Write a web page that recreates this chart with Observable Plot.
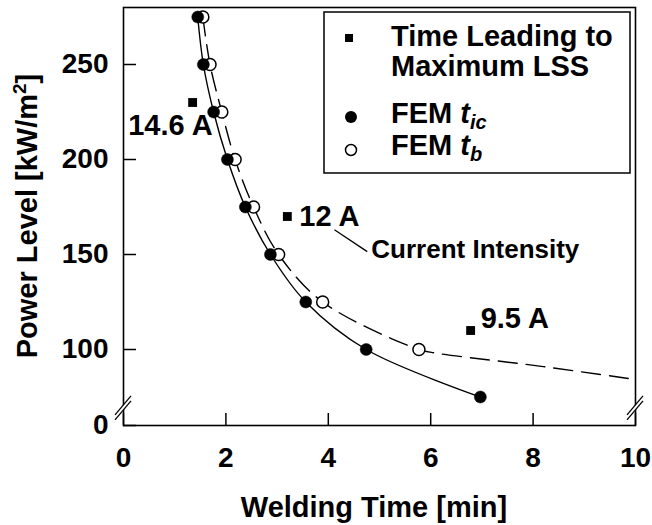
<!DOCTYPE html>
<html><head><meta charset="utf-8">
<script src="https://cdn.jsdelivr.net/npm/d3@7"></script>
<script src="https://cdn.jsdelivr.net/npm/@observablehq/plot@0.6"></script>
<style>body{margin:0;background:#fff} svg{display:block}</style>
</head><body><div id="chart"></div>
<script>
// ---- data ----
const ticLevels = [275, 250, 225, 200, 175, 150, 125, 100, 75];
const ticTimes  = [1.45, 1.56, 1.76, 2.03, 2.38, 2.87, 3.56, 4.74, 6.97];
const tbLevels  = [275, 250, 225, 200, 175, 150, 125, 100];
const tbTimes   = [1.55, 1.69, 1.92, 2.18, 2.54, 3.03, 3.89, 5.77];
const tbTailTimes  = [6.13, 8.2, 10];
const tbTailLevels = [98, 91, 84.2];
const lssTimes   = [1.35, 3.2, 6.78];
const lssLevels  = [230, 170, 110];
const lssLabels  = ["14.6 A", "12 A", "9.5 A"];
const xTicks = [0, 2, 4, 6, 8, 10];
const yTicks = [60, 100, 150, 200, 250];          // 60 sits at the broken-axis origin
const yTickLabels = ["0", "100", "150", "200", "250"];
const xDomain = [0, 10];
const yDomain = [60, 280];
const breakLevel = 69;
const leaderFrom = [4.12, 163];
const leaderTo = [4.76, 151.5];
const currentLabelAt = [4.84, 152.3];
const currentLabel = "Current Intensity";

const tic = ticTimes.map((t, i) => ({t, p: ticLevels[i]}));
const tb = tbTimes.map((t, i) => ({t, p: tbLevels[i]}));
const tbCurve = tb.concat(tbTailTimes.map((t, i) => ({t, p: tbTailLevels[i]})));
const lss = lssTimes.map((t, i) => ({t, p: lssLevels[i], label: lssLabels[i]}));

const FONT = "'Liberation Sans', Arial, Helvetica, sans-serif";

const plot = Plot.plot({
  width: 652, height: 525,
  marginLeft: 123, marginRight: 17, marginTop: 7, marginBottom: 100,
  style: {fontFamily: FONT, fontWeight: "bold", color: "black", background: "white", overflow: "visible"},
  x: {domain: xDomain},
  y: {domain: yDomain},
  marks: [
    Plot.axisX({ticks: xTicks, tickSize: -12, tickPadding: 34, fontSize: 28, strokeWidth: 1.5, label: null, tickFormat: d => String(d)}),
    Plot.axisY({ticks: yTicks, tickSize: -13, tickPadding: 28, fontSize: 28, strokeWidth: 1.5, label: null,
      tickFormat: d => yTickLabels[yTicks.indexOf(d)]}),
    Plot.frame({stroke: "black", strokeWidth: 1.6}),
    Plot.line(tic, {x: "t", y: "p", curve: "catmull-rom", stroke: "black", strokeWidth: 1.4}),
    Plot.line(tbCurve, {x: "t", y: "p", curve: "catmull-rom", stroke: "black", strokeWidth: 1.4, strokeDasharray: "19,9"}),
    Plot.dot(tb, {x: "t", y: "p", r: 6, fill: "white", stroke: "black", strokeWidth: 1.5}),
    Plot.dot(tic, {x: "t", y: "p", r: 6, fill: "black", stroke: "black", strokeWidth: 0.5}),
    Plot.dot(lss, {x: "t", y: "p", symbol: "square", r: 5, fill: "black"}),
    Plot.text(lss.slice(0, 1), {x: "t", y: "p", text: "label", textAnchor: "end", dx: 20, dy: 23, fontSize: 29, fontWeight: "bold", fill: "black"}),
    Plot.text(lss.slice(1, 2), {x: "t", y: "p", text: "label", textAnchor: "start", dx: 12, dy: 0, fontSize: 29, fontWeight: "bold", fill: "black"}),
    Plot.text(lss.slice(2, 3), {x: "t", y: "p", text: "label", textAnchor: "start", dx: 10, dy: -12, fontSize: 29, fontWeight: "bold", fill: "black"}),
    Plot.link([0], {x1: () => leaderFrom[0], y1: () => leaderFrom[1], x2: () => leaderTo[0], y2: () => leaderTo[1], stroke: "black", strokeWidth: 1.3}),
    Plot.text([currentLabel], {x: () => currentLabelAt[0], y: () => currentLabelAt[1], text: d => d, textAnchor: "start", fontSize: 26, fontWeight: "bold", fill: "black"})
  ]
});

const svg = d3.select(plot);
const sx = plot.scale("x"), sy = plot.scale("y");

// axis breaks
for (const xv of xDomain) {
  const cx = sx.apply(xv), cy = sy.apply(breakLevel);
  const g = svg.append("g");
  g.append("polygon")
    .attr("points", [[cx - 8, cy + 7], [cx + 8, cy - 12], [cx + 8, cy - 7], [cx - 8, cy + 12]].map(p => p.join(",")).join(" "))
    .attr("fill", "white");
  g.append("line").attr("x1", cx - 8).attr("y1", cy + 7).attr("x2", cx + 8).attr("y2", cy - 12).attr("stroke", "black").attr("stroke-width", 1.3);
  g.append("line").attr("x1", cx - 8).attr("y1", cy + 12).attr("x2", cx + 8).attr("y2", cy - 7).attr("stroke", "black").attr("stroke-width", 1.3);
}

// axis titles
svg.append("text")
  .attr("x", 374).attr("y", 517)
  .attr("text-anchor", "middle").attr("font-size", 29).attr("font-weight", "bold").attr("font-family", FONT)
  .text("Welding Time [min]");
const yt = svg.append("text")
  .attr("transform", `translate(37,${(sy.apply(yDomain[0]) + sy.apply(yDomain[1])) / 2}) rotate(-90)`)
  .attr("text-anchor", "middle").attr("font-size", 29).attr("font-weight", "bold").attr("font-family", FONT);
yt.append("tspan").text("Power Level [kW/m");
yt.append("tspan").attr("font-size", 19).attr("dy", -11).text("2");
yt.append("tspan").attr("dy", 11).text("]");

// legend
const lg = svg.append("g").attr("font-family", FONT).attr("font-weight", "bold").attr("font-size", 29).attr("text-anchor", "start");
lg.append("rect").attr("x", 324).attr("y", 12).attr("width", 306).attr("height", 161)
  .attr("fill", "white").attr("stroke", "black").attr("stroke-width", 1.5);
lg.append("rect").attr("x", 345).attr("y", 34).attr("width", 8).attr("height", 8).attr("fill", "black");
lg.append("text").attr("x", 391).attr("y", 46).text("Time Leading to");
lg.append("text").attr("x", 391).attr("y", 76).text("Maximum LSS");
lg.append("circle").attr("cx", 351).attr("cy", 117).attr("r", 6).attr("fill", "black");
const l3 = lg.append("text").attr("x", 391).attr("y", 123);
l3.append("tspan").text("FEM ");
l3.append("tspan").attr("font-style", "italic").text("t");
l3.append("tspan").attr("font-style", "italic").attr("font-size", 20).attr("dy", 6).text("ic");
lg.append("circle").attr("cx", 351).attr("cy", 150).attr("r", 5.5).attr("fill", "white").attr("stroke", "black").attr("stroke-width", 1.5);
const l4 = lg.append("text").attr("x", 391).attr("y", 155);
l4.append("tspan").text("FEM ");
l4.append("tspan").attr("font-style", "italic").text("t");
l4.append("tspan").attr("font-style", "italic").attr("font-size", 20).attr("dy", 6).text("b");

document.getElementById("chart").appendChild(plot);
</script>
</body></html>
